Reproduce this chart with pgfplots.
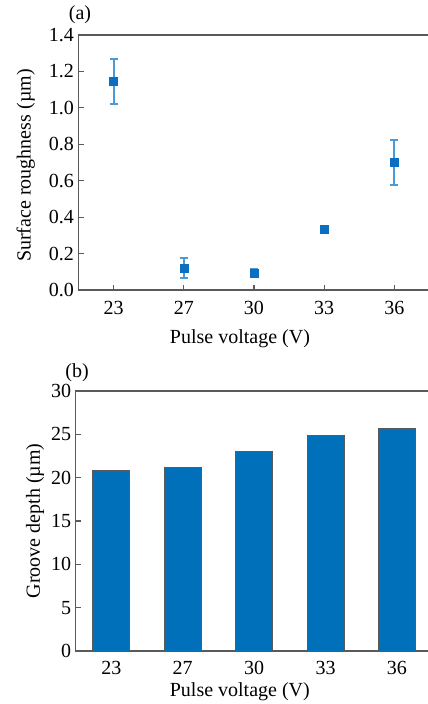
\documentclass[border=0pt]{standalone}
\usepackage{fontspec}
\setmainfont{Liberation Serif}
\usepackage{pgfplots}
\pgfplotsset{compat=1.18}
\definecolor{barblue}{HTML}{0070BB}
\definecolor{mkblue}{HTML}{0B6EC0}
\definecolor{errblue}{HTML}{4A9AD8}
\definecolor{axgray}{HTML}{5A5A5A}

\pgfplotsset{
  paper/.style={
    scale only axis,
    font=\fontsize{20bp}{24bp}\selectfont,
    /pgf/number format/assume math mode=true,
    axis line style={axgray, line width=1.4bp},
    tick style={axgray, line width=1.1bp},
    tick align=inside,
    major tick length=5bp,
    xmin=-0.5, xmax=4.5,
    xtick={0,1,2,3,4},
    xticklabels={23,27,30,33,36},
    xtick pos=bottom,
    ytick pos=left,
    every axis x label/.style={at={(rel axis cs:0.46,0)}, anchor=north},
    every axis y label/.style={at={(rel axis cs:0,0.5)}, anchor=south, rotate=90},
  },
}

\begin{document}
\begin{tikzpicture}
\useasboundingbox (0,0) rectangle (428bp,704bp);

% (a) surface roughness
\begin{axis}[paper,
  at={(78.5bp,414bp)}, anchor=south west,
  width=351bp, height=255bp,
  ymin=0, ymax=1.4, ytick={0,0.2,...,1.4},
  yticklabel style={/pgf/number format/fixed, /pgf/number format/fixed zerofill,
    /pgf/number format/precision=1, xshift=-1bp},
  xticklabel style={yshift=-8bp},
  xlabel={Pulse voltage (V)},
  ylabel={Surface roughness (\textmu m)},
  xlabel style={yshift=-36bp},
  ylabel style={xshift=-3bp, yshift=40bp},
]
\addplot[only marks, mark=square*, mark size=4bp,
  mark options={fill=mkblue, draw=mkblue},
  error bars/.cd, y dir=both, y explicit,
  error bar style={draw=errblue, line width=2bp},
  error mark options={draw=errblue, line width=2bp, rotate=90, mark size=4bp}]
  coordinates {
  (0,1.145) +- (0,0.122)
  (1,0.121) +- (0,0.057)
  (2,0.092) +- (0,0.022)
  (3,0.332) +- (0,0.02)
  (4,0.700) +- (0,0.126)
};
\end{axis}
\node[font=\fontsize{20bp}{24bp}\selectfont] at (80bp,689bp) {(a)};

% (b) groove depth
\begin{axis}[paper,
  at={(75.6bp,53bp)}, anchor=south west,
  width=357bp, height=260bp,
  ymin=0, ymax=30, ytick={0,5,...,30},
  xticklabel style={yshift=-9bp, inner sep=1bp},
  yticklabel style={xshift=-1bp},
  xlabel={Pulse voltage (V)},
  ylabel={Groove depth (\textmu m)},
  xlabel style={yshift=-30bp, inner sep=1bp},
  ylabel style={xshift=0bp, yshift=28bp},
]
\addplot[ybar, bar width=37bp, fill=barblue, draw=axgray, line width=1bp]
  coordinates {
  (0,20.77)
  (1,21.19)
  (2,23.0)
  (3,24.88)
  (4,25.73)
};
\end{axis}
\node[font=\fontsize{20bp}{24bp}\selectfont] at (77bp,331bp) {(b)};
\end{tikzpicture}
\end{document}
